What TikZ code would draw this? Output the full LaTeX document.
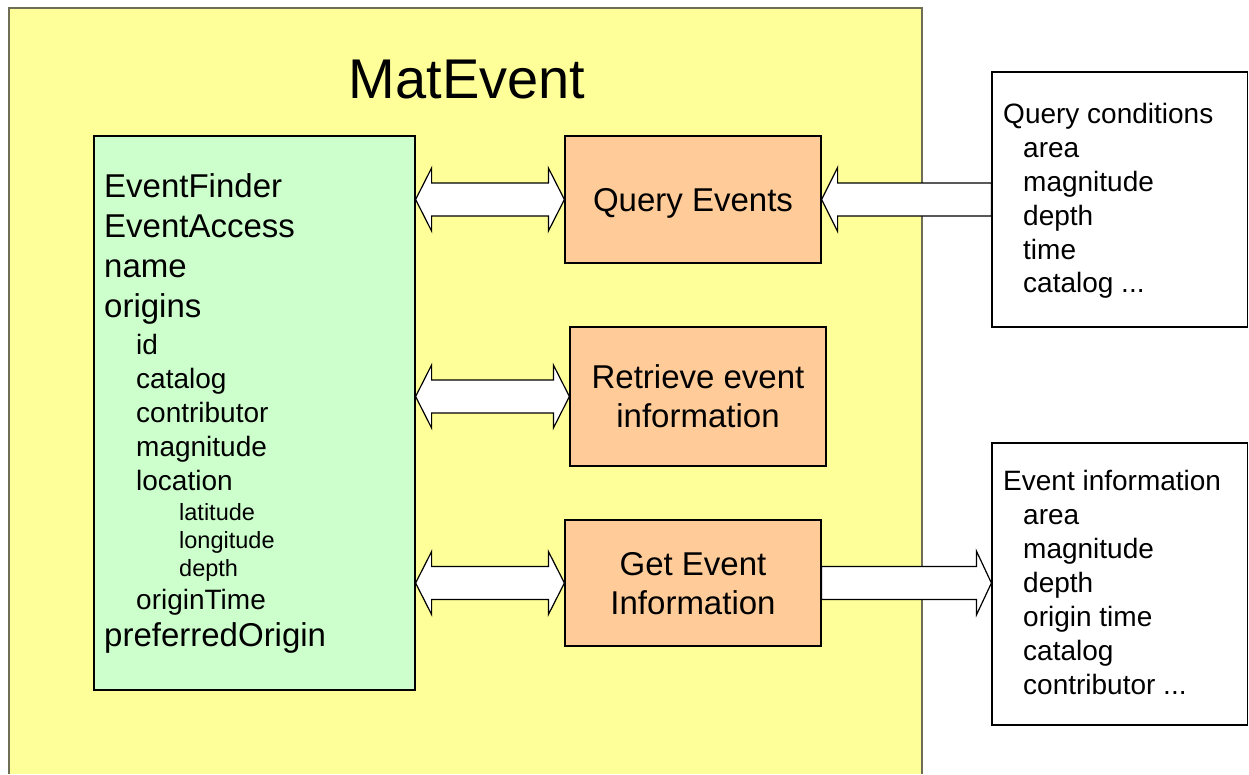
\documentclass[tikz,border=0pt]{standalone}
\usepackage{fontspec}
\setmainfont{Liberation Sans}
\usetikzlibrary{calc}
\definecolor{myyellow}{RGB}{255,255,153}
\definecolor{mygreen}{RGB}{204,255,204}
\definecolor{myorange}{RGB}{255,204,153}
\definecolor{myframe}{RGB}{110,110,85}
\tikzset{
  box/.style={draw=black, line width=1.2pt, inner sep=0pt},
  opbox/.style={box, fill=myorange, minimum width=256pt, align=center, text depth=0pt, font=\fontsize{33}{39}\selectfont},
  infobox/.style={box, fill=white, minimum width=255.5pt},
  blockarrow/.style={draw=black, fill=white, line width=1.2pt, line join=miter},
  lvlone/.style={anchor=base west, inner sep=0pt, font=\fontsize{33}{40}\selectfont},
  lvltwo/.style={anchor=base west, inner sep=0pt, font=\fontsize{28}{34}\selectfont},
  lvlthree/.style={anchor=base west, inner sep=0pt, font=\fontsize{23.5}{28}\selectfont},
}
\begin{document}
\begin{tikzpicture}[x=1pt, y=-1pt]
\useasboundingbox (0,0) rectangle (1249,774);
% package frame
\fill[myyellow] (9,8) rectangle (922,774);
\draw[myframe, line width=1.5pt] (9,774) -- (9,8) -- (922,8) -- (922,774);
\node[anchor=base, inner sep=0pt, font=\fontsize{56}{60}\selectfont] (title) at (467,98) {MatEvent};

% object box
\node[box, fill=mygreen, minimum width=321pt, minimum height=554pt] (obj) at (254.5,413) {};
\foreach \y/\t in {197/EventFinder, 237/EventAccess, 277/name, 317/origins, 646/preferredOrigin}
  \node[lvlone] (one\y) at (104,\y) {\t};
\foreach \y/\t in {354/id, 388/catalog, 422/contributor, 456/magnitude, 490/location, 609/originTime}
  \node[lvltwo] (two\y) at (136,\y) {\t};
\foreach \y/\t in {520/latitude, 548/longitude, 576/depth}
  \node[lvlthree] (three\y) at (179,\y) {\t};

% operations
\node[opbox, minimum height=127pt] (qe) at (693,199.5) {Query Events};
\node[opbox, minimum height=139pt] (re) at (698,396.5) {Retrieve event\\information};
\node[opbox, minimum height=126pt] (ge) at (693,583) {Get Event\\Information};

% conditions and results
\node[infobox, minimum height=255pt] (qc) at (1119.75,199.5) {};
\node[lvltwo] (qchead) at (1003,123) {Query conditions};
\foreach \y/\t in {157/area, 191/magnitude, 225/depth, 259/time, 292/{catalog ...}}
  \node[lvltwo] (qc\y) at (1023,\y) {\t};
\node[infobox, minimum height=282pt] (ei) at (1119.75,584) {};
\node[lvltwo] (eihead) at (1003,490) {Event information};
\foreach \y/\t in {524/area, 558/magnitude, 592/depth, 626/origin time, 660/catalog, 694/{contributor ...}}
  \node[lvltwo] (ei\y) at (1023,\y) {\t};

% block arrows
\foreach \b in {qe, re, ge}
  \draw[blockarrow] let \p1 = (obj.east |- \b.west), \p2 = (\b.west) in
    (\p1) -- (\x1+16pt,\y1+31.5pt) -- (\x1+16pt,\y1+16.5pt) -- (\x2-16pt,\y1+16.5pt)
    -- (\x2-16pt,\y1+31.5pt) -- (\p2) -- (\x2-16pt,\y1-31.5pt) -- (\x2-16pt,\y1-16.5pt)
    -- (\x1+16pt,\y1-16.5pt) -- (\x1+16pt,\y1-31.5pt) -- cycle;
\draw[blockarrow] let \p1 = (qc.west), \p2 = (qe.east) in
  (\x1,\y1+16.5pt) -- (\x2+16pt,\y1+16.5pt) -- (\x2+16pt,\y1+32pt) -- (\p2)
  -- (\x2+16pt,\y1-32pt) -- (\x2+16pt,\y1-16.5pt) -- (\x1,\y1-16.5pt) -- cycle;
\draw[blockarrow] let \p1 = (ge.east), \p2 = (ei.west |- ge.east) in
  (\x1,\y1+16.5pt) -- (\x2-15pt,\y1+16.5pt) -- (\x2-15pt,\y1+32pt) -- (\p2)
  -- (\x2-15pt,\y1-32pt) -- (\x2-15pt,\y1-16.5pt) -- (\x1,\y1-16.5pt) -- cycle;
\end{tikzpicture}
\end{document}
